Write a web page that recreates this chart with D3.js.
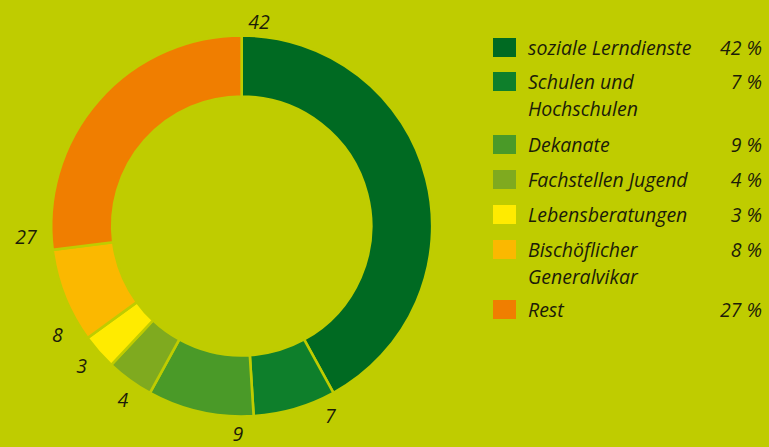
<!DOCTYPE html>
<html>
<head>
<meta charset="utf-8">
<script src="https://cdn.jsdelivr.net/npm/d3@7"></script>
<style>
  html, body { margin: 0; padding: 0; background: #bfcc00; }
  svg { display: block; }
  text { font-family: "Open Sans", sans-serif; font-style: italic; fill: #1c1c08; }
</style>
</head>
<body>
<svg id="chart" width="769" height="447"></svg>
<script>
var categories = ["soziale Lerndienste", "Schulen und|Hochschulen", "Dekanate", "Fachstellen Jugend",
                  "Lebensberatungen", "Bischöflicher|Generalvikar", "Rest"];
var values = [42, 7, 9, 4, 3, 8, 27];
var colors = ["#006a22", "#0e7f2b", "#4a9a28", "#7faa1f", "#ffeb00", "#fbb800", "#f07e00"];

var bg = "#bfcc00";
var width = 769, height = 447;
var cx = 241.7, cy = 226,
    outerR = 190.5, innerR = 129.5;

var svg = d3.select("#chart");

var pie = d3.pie().sort(null).value(function(d) { return d; });
var arcs = pie(values);

var arc = d3.arc().innerRadius(innerR).outerRadius(outerR);

var donut = svg.append("g")
    .attr("transform", "translate(" + cx + "," + cy + ")");

donut.selectAll(".slice")
    .data(arcs)
    .enter().append("path")
    .attr("class", "slice")
    .attr("d", arc)
    .attr("fill", function(d, i) { return colors[i]; })
    .attr("stroke", bg)
    .attr("stroke-width", 2.6);

// value labels sit a little past the start of each slice, on a slightly flat ellipse
var labelRx = 216, labelRy = 206;
donut.selectAll(".val")
    .data(arcs)
    .enter().append("text")
    .attr("class", "val")
    .attr("x", function(d) { return Math.sin(d.startAngle + 0.08) * labelRx; })
    .attr("y", function(d) { return -Math.cos(d.startAngle + 0.08) * labelRy + 2; })
    .attr("text-anchor", "middle")
    .attr("dy", "0.35em")
    .style("font-size", "19.5px")
    .text(function(d) { return d.data; });

// legend
var rowTop = [38, 72, 135, 170, 205, 240, 300];
var legend = svg.append("g");

var rows = legend.selectAll(".row")
    .data(categories)
    .enter().append("g")
    .attr("class", "row")
    .attr("transform", function(d, i) { return "translate(0," + rowTop[i] + ")"; });

rows.append("rect")
    .attr("x", 493)
    .attr("y", 0)
    .attr("width", 23)
    .attr("height", 19)
    .attr("fill", function(d, i) { return colors[i]; });

rows.append("text")
    .attr("x", 528)
    .attr("y", 16.5)
    .style("font-size", "19.5px")
    .each(function(d) {
        var lines = d.split("|");
        var t = d3.select(this);
        lines.forEach(function(l, j) {
            t.append("tspan").attr("x", 528).attr("dy", j ? 27 : 0).text(l);
        });
    });

rows.append("text")
    .attr("x", 762)
    .attr("y", 16.5)
    .attr("text-anchor", "end")
    .style("font-size", "19.5px")
    .text(function(d, i) { return values[i] + " %"; });
</script>
</body>
</html>
